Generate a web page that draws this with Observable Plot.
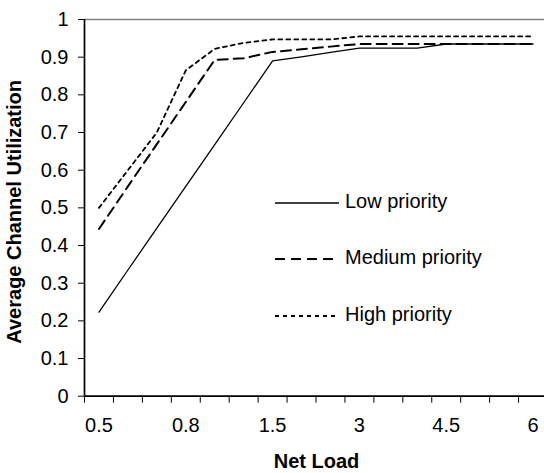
<!DOCTYPE html>
<html><head><meta charset="utf-8">
<script src="https://cdn.jsdelivr.net/npm/d3@7"></script>
<script src="https://cdn.jsdelivr.net/npm/@observablehq/plot@0.6"></script>
<style>
html,body{margin:0;padding:0;overflow:hidden;background:#fff;}
#chart{position:relative;width:544px;height:473px;overflow:hidden;}
.leg{position:absolute;font-family:"Liberation Sans",Arial,sans-serif;font-size:20px;color:#000;white-space:nowrap;line-height:20px;}
</style></head><body><div id="chart"></div>
<script>
// categories (net load) — only every third one is labelled on the axis
const loads = ["0.5","0.6","0.7","0.8","1","1.2","1.5","2","2.5","3","3.5","4","4.5","5","5.5","6"];
const labeledLoads = ["0.5","0.8","1.5","3","4.5","6"];
// series values (average channel utilization)
const lowPriority    = [0.223,0.335,0.446,0.557,0.668,0.779,0.890,0.901,0.913,0.924,0.924,0.924,0.935,0.935,0.935,0.935];
const mediumPriority = [0.444,0.557,0.669,0.781,0.893,0.897,0.914,0.921,0.928,0.935,0.935,0.935,0.935,0.935,0.935,0.935];
const highPriority   = [0.500,0.600,0.700,0.865,0.922,0.938,0.947,0.947,0.947,0.955,0.955,0.955,0.955,0.955,0.955,0.955];
const seriesNames = ["Low priority","Medium priority","High priority"];
// y ticks
const yTicks = [0,0.1,0.2,0.3,0.4,0.5,0.6,0.7,0.8,0.9,1];
const yTickLabels = ["0","0.1","0.2","0.3","0.4","0.5","0.6","0.7","0.8","0.9","1"];

const font = '"Liberation Sans", Arial, sans-serif';
const seriesValues = [lowPriority, mediumPriority, highPriority];
const lineStyles = [
  {dash: null, width: 1.3},
  {dash: "10,6", width: 2},
  {dash: "4,4", width: 1.8}
];
const rows = seriesValues.map((vals, s) => vals.map((v, i) => ({series: seriesNames[s], idx: i, value: v})));
const boundaries = d3.range(loads.length + 1).map(i => i - 0.5);
const labelIdx = labeledLoads.map(l => loads.indexOf(l));

const lineMarks = rows.map((r, s) => Plot.line(r, {
  x: "idx", y: "value", stroke: "black",
  strokeWidth: lineStyles[s].width,
  strokeDasharray: lineStyles[s].dash || undefined
}));

const chart = Plot.plot({
  width: 544, height: 473,
  marginLeft: 84, marginRight: 0, marginTop: 19, marginBottom: 77.3,
  style: {fontFamily: font, fontSize: "20px", color: "black", background: "white"},
  x: {domain: [-0.5, loads.length - 0.5], range: [84, 547], axis: null},
  y: {domain: [0, 1], range: [395.7, 19], axis: null},
  marks: [
    Plot.ruleY([1], {stroke: "#808080", strokeWidth: 1.3}),
    Plot.axisY(yTicks, {tickSize: 6, tickPadding: 10, tickFormat: (d, i) => yTickLabels[i], fontSize: 20, label: null}),
    Plot.axisX(boundaries, {tickSize: 7, tickFormat: () => "", label: null}),
    Plot.axisX(labelIdx, {tickSize: 0, tickPadding: 22, tickFormat: d => loads[d], fontSize: 20, label: null}),
    ...lineMarks,
    Plot.ruleX([-0.5], {stroke: "black", strokeWidth: 1.7}),
    Plot.ruleY([0], {stroke: "black", strokeWidth: 1.7}),
    Plot.text(["Net Load"], {frameAnchor: "bottom", lineAnchor: "middle", textAnchor: "middle", dx: 2, dy: 65, fontWeight: "bold", fontSize: 20}),
    Plot.text(["Average Channel Utilization"], {frameAnchor: "left", rotate: -90, textAnchor: "middle", lineAnchor: "middle", dx: -70, dy: 4, fontWeight: "bold", fontSize: 20})
  ]
});
const host = document.getElementById("chart");
host.appendChild(chart);

// legend (inside the plot area, as in the reference)
const svgNS = "http://www.w3.org/2000/svg";
seriesNames.forEach((name, i) => {
  const y = 202.7 + i * 56.7;
  const s = document.createElementNS(svgNS, "svg");
  s.setAttribute("width", 66); s.setAttribute("height", 6);
  s.style.position = "absolute"; s.style.left = "275px"; s.style.top = (y - 3) + "px";
  const ln = document.createElementNS(svgNS, "line");
  ln.setAttribute("x1", 0); ln.setAttribute("x2", 64); ln.setAttribute("y1", 3); ln.setAttribute("y2", 3);
  ln.setAttribute("stroke", "black"); ln.setAttribute("stroke-width", lineStyles[i].width);
  if (lineStyles[i].dash) ln.setAttribute("stroke-dasharray", lineStyles[i].dash);
  s.appendChild(ln);
  host.appendChild(s);
  const t = document.createElement("div");
  t.className = "leg"; t.textContent = name;
  t.style.left = "345px"; t.style.top = (y - 12) + "px";
  host.appendChild(t);
});
</script>
</body></html>
